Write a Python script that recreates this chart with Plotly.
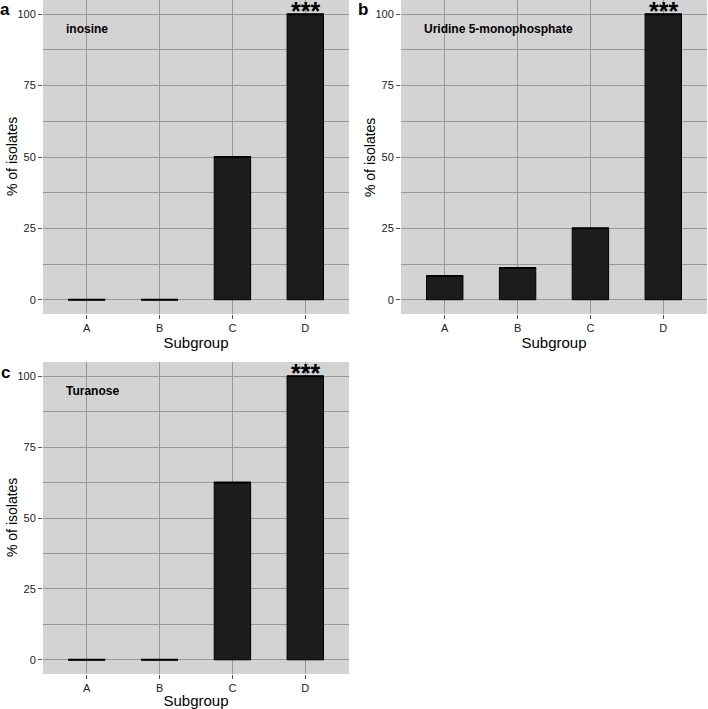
import plotly.graph_objects as go

categories = ["A", "B", "C", "D"]
inosine = [0, 0, 50, 100]
uridine = [8.33, 11.1, 25, 100]
turanose = [0, 0, 62.5, 100]
panel_names = ["inosine", "Uridine 5-monophosphate", "Turanose"]
panel_letters = ["a", "b", "c"]
signif = ["***", "***", "***"]
y_ticks = [0, 25, 50, 75, 100]

series = [inosine, uridine, turanose]

W, H = 708, 709
FONT = "Liberation Sans, Arial, Helvetica, sans-serif"

# pixel boxes (left, right, top, bottom)
boxes = [(43, 349, 0, 314), (401, 707, 0, 314), (43, 349, 362, 674)]

fig = go.Figure()
layout = dict(
    width=W, height=H, margin=dict(l=0, r=0, t=0, b=0),
    paper_bgcolor="white", plot_bgcolor="#d3d3d3",
    showlegend=False, bargap=0.5,
    font=dict(family=FONT, color="black"),
)
annotations = []

for i, (vals, box) in enumerate(zip(series, boxes)):
    n = "" if i == 0 else str(i + 1)
    xa, ya = "x" + n, "y" + n
    l, r, t, b = box
    fig.add_trace(go.Bar(
        x=categories, y=vals, xaxis=xa, yaxis=ya, width=0.5,
        marker=dict(color="#1c1c1c", line=dict(color="black", width=1)),
    ))
    # horizontal top line (makes zero-height bars visible)
    fig.add_trace(go.Scatter(
        x=categories, y=vals, xaxis=xa, yaxis=ya, mode="markers",
        marker=dict(symbol="line-ew", size=26.5, line=dict(color="black", width=2)),
        hoverinfo="skip",
    ))
    layout["xaxis" + n] = dict(
        domain=[l / W, r / W], anchor=ya, range=[-0.6, 3.6],
        type="category", showgrid=True, gridcolor="#989898", gridwidth=1,
        ticks="outside", ticklen=4, tickcolor="#555555", tickwidth=1,
        tickfont=dict(size=11, color="#222222", family=FONT),
        title=dict(text="Subgroup", font=dict(size=15, family=FONT), standoff=2),
        showline=False, zeroline=False, fixedrange=True,
    )
    layout["yaxis" + n] = dict(
        domain=[1 - b / H, 1 - t / H], anchor=xa, range=[-5, 105],
        tickvals=y_ticks, showgrid=True, gridcolor="#989898", gridwidth=1,
        minor=dict(dtick=12.5, tick0=12.5, showgrid=True, gridcolor="#989898", gridwidth=1, ticks=""),
        ticks="outside", ticklen=4, tickcolor="#555555", tickwidth=1,
        tickfont=dict(size=11, color="#222222", family=FONT),
        showline=False, zeroline=False, fixedrange=True,
    )
    # y-axis title
    annotations.append(dict(
        x=12 / W + (l - 43) / W, y=0.5, xref="paper", yref=ya + " domain",
        text="% of isolates", textangle=-90, showarrow=False,
        xanchor="center", yanchor="middle", font=dict(size=14, family=FONT),
    ))
    annotations.append(dict(
        x=0.07, y=0.907, xref=xa + " domain", yref=ya + " domain",
        text="<b>" + panel_names[i] + "</b>", showarrow=False,
        xanchor="left", yanchor="middle", font=dict(size=12, family=FONT),
    ))
    annotations.append(dict(
        x=categories[3], y=max(vals), xref=xa, yref=ya,
        text="<b>" + signif[i] + "</b>", showarrow=False, xanchor="center", yanchor="bottom",
        yshift=-12, borderpad=0, font=dict(size=25, family=FONT),
    ))
    annotations.append(dict(
        x=(l - 38) / W, y=1 - (t + 10) / H, xref="paper", yref="paper",
        text="<b>" + panel_letters[i] + "</b>", showarrow=False,
        xanchor="center", yanchor="middle", font=dict(size=17, family=FONT),
    ))

layout["annotations"] = annotations
fig.update_layout(**layout)
fig.write_html(
    "out.html",
    config={"displayModeBar": False},
    post_script="document.body.style.margin='0';document.body.style.overflow='hidden';",
)
